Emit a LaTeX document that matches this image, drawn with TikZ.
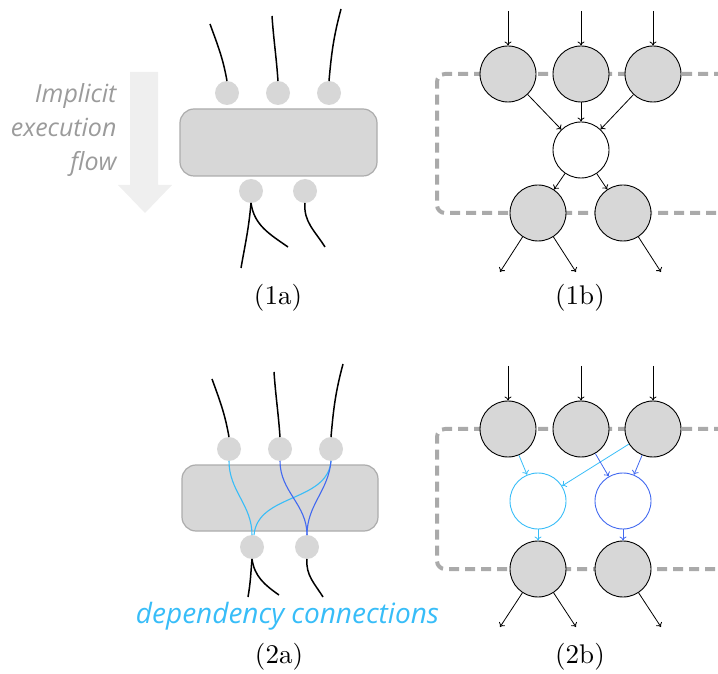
\documentclass[tikz,border=0pt]{standalone}
\usepackage{fontspec}
\newfontfamily\notefont{Open Sans}
\newfontfamily\capfont{lmroman10-regular.otf}
\usetikzlibrary{arrows.meta}

\definecolor{boxgray}{RGB}{215,215,215}
\definecolor{edgegray}{RGB}{172,172,172}
\definecolor{dashgray}{RGB}{170,170,170}
\definecolor{flowgray}{RGB}{239,239,239}
\definecolor{textgray}{RGB}{155,155,155}
\definecolor{deplight}{RGB}{56,189,248}
\definecolor{depdark}{RGB}{66,105,240}

\begin{document}
\begin{tikzpicture}[x=1pt,y=1pt,
  port/.style={circle, fill=boxgray, minimum size=24pt, inner sep=0pt, outer sep=0pt},
  unit/.style={rounded corners=14pt, fill=boxgray, draw=edgegray, line width=1.2pt, inner sep=0pt},
  wire/.style={line width=1.5pt, black},
  depwire/.style={line width=1.1pt},
  opnode/.style={circle, draw=black, fill=boxgray, minimum size=56pt, inner sep=0pt, line width=0.9pt},
  joinnode/.style={circle, draw=black, fill=white, minimum size=56pt, inner sep=0pt, line width=0.9pt},
  flowarr/.style={-{To[length=4pt,width=7pt]}, line width=0.8pt},
  region/.style={draw=dashgray, line width=4pt, dash pattern=on 10pt off 6pt, rounded corners=8pt},
  caption/.style={font=\capfont\fontsize{27}{30}\selectfont},
  note/.style={font=\notefont\itshape\fontsize{25}{34}\selectfont},
]
\useasboundingbox (0,0) rectangle (718,673);

% ---------------- (1a) implicit execution ----------------
\fill[flowgray] (130,601) -- (158,601) -- (158,488) -- (172,488) -- (145,460)
  -- (118,488) -- (130,488) -- cycle;
\node[note, text=textgray, align=right, anchor=east] (flowtxt) at (120,543)
  {Implicit\\execution\\flow};

\node[unit, minimum width=197pt, minimum height=67pt] (u1) at (278.5,530.5) {};
\node[port] (p1) at (227,580) {};
\node[port] (p2) at (278,580) {};
\node[port] (p3) at (329,580) {};
\node[port] (q1) at (251,482) {};
\node[port] (q2) at (305,482) {};

\coordinate (t1) at (210,649);
\coordinate (t2) at (272,657);
\coordinate (t3) at (341,664);
\coordinate (b1) at (241,405);
\coordinate (b2) at (288,426);
\coordinate (b3) at (325,426);

\draw[wire] (p1.north) to[out=100,in=-70] (t1);
\draw[wire] (p2.north) to[out=94,in=-86] (t2);
\draw[wire] (p3.north) to[out=85,in=-105] (t3);
\draw[wire] (q1.south) to[out=-95,in=80] (b1);
\draw[wire] (q1.south) to[out=-82,in=145] (b2);
\draw[wire] (q2.south) to[out=-95,in=122] (b3);

\node[caption] (cap1a) at (278,375) {(1a)};

% ---------------- (1b) graph view ----------------
\draw[region] (724,599) -- (437,599) -- (437,460) -- (724,460);

\node[opnode] (T1) at (508,599) {};
\node[opnode] (T2) at (581,599) {};
\node[opnode] (T3) at (653,599) {};
\node[joinnode] (M) at (581,523) {};
\node[opnode] (B1) at (538,460) {};
\node[opnode] (B2) at (623,460) {};

\coordinate (i1) at (508,662);
\coordinate (i2) at (581,662);
\coordinate (i3) at (653,662);
\coordinate (o1) at (500,401);
\coordinate (o2) at (576,401);
\coordinate (o3) at (661,401);

\draw[flowarr] (i1) -- (T1);
\draw[flowarr] (i2) -- (T2);
\draw[flowarr] (i3) -- (T3);
\draw[flowarr] (T1) -- (M);
\draw[flowarr] (T2) -- (M);
\draw[flowarr] (T3) -- (M);
\draw[flowarr] (M) -- (B1);
\draw[flowarr] (M) -- (B2);
\draw[flowarr] (B1) -- (o1);
\draw[flowarr] (B1) -- (o2);
\draw[flowarr] (B2) -- (o3);

\node[caption] (cap1b) at (580,375) {(1b)};

% ---------------- (2a) explicit dependencies ----------------
\node[unit, minimum width=196pt, minimum height=66pt] (u2) at (280,175) {};
\node[port] (r1) at (229,224) {};
\node[port] (r2) at (280,224) {};
\node[port] (r3) at (331,224) {};
\node[port] (s1) at (252,126) {};
\node[port] (s2) at (307,126) {};

\coordinate (w1) at (212,294);
\coordinate (w2) at (274,301);
\coordinate (w3) at (343,309);
\coordinate (v1) at (248,76);
\coordinate (v2) at (279,78);
\coordinate (v3) at (323,76);

\draw[wire] (r1.north) to[out=100,in=-70] (w1);
\draw[wire] (r2.north) to[out=94,in=-86] (w2);
\draw[wire] (r3.north) to[out=85,in=-105] (w3);
\draw[wire] (s1.south) to[out=-95,in=80] (v1);
\draw[wire] (s1.south) to[out=-82,in=145] (v2);
\draw[wire] (s2.south) to[out=-95,in=122] (v3);

\draw[depwire, deplight] (r1.south) to[out=-90,in=90] (s1.north);
\draw[depwire, deplight] (r3.south) to[out=-95,in=85] ([xshift=2pt]s1.north);
\draw[depwire, depdark] (r2.south) to[out=-90,in=90] (s2.north);
\draw[depwire, depdark] (r3.south) to[out=-95,in=90] (s2.north);

\node[note, font=\notefont\itshape\fontsize{28}{32}\selectfont, text=deplight] (deptxt) at (287.5,57)
  {dependency connections};
\node[caption] (cap2a) at (279,16) {(2a)};

% ---------------- (2b) graph view with dependencies ----------------
\draw[region] (724,244) -- (437,244) -- (437,104) -- (724,104);

\node[opnode] (U1) at (508,244) {};
\node[opnode] (U2) at (581,244) {};
\node[opnode] (U3) at (653,244) {};
\node[joinnode, draw=deplight] (N1) at (538,172) {};
\node[joinnode, draw=depdark] (N2) at (623,172) {};
\node[opnode] (D1) at (538,104) {};
\node[opnode] (D2) at (623,104) {};

\coordinate (j1) at (508,307);
\coordinate (j2) at (581,307);
\coordinate (j3) at (653,307);
\coordinate (k1) at (500,46);
\coordinate (k2) at (576,46);
\coordinate (k3) at (661,46);

\draw[flowarr] (j1) -- (U1);
\draw[flowarr] (j2) -- (U2);
\draw[flowarr] (j3) -- (U3);
\draw[flowarr, deplight] (U1) -- (N1);
\draw[flowarr, deplight] (U3) -- (N1);
\draw[flowarr, depdark] (U2) -- (N2);
\draw[flowarr, depdark] (U3) -- (N2);
\draw[flowarr, deplight] (N1) -- (D1);
\draw[flowarr, depdark] (N2) -- (D2);
\draw[flowarr] (D1) -- (k1);
\draw[flowarr] (D1) -- (k2);
\draw[flowarr] (D2) -- (k3);

\node[caption] (cap2b) at (580,16) {(2b)};
\end{tikzpicture}
\end{document}
